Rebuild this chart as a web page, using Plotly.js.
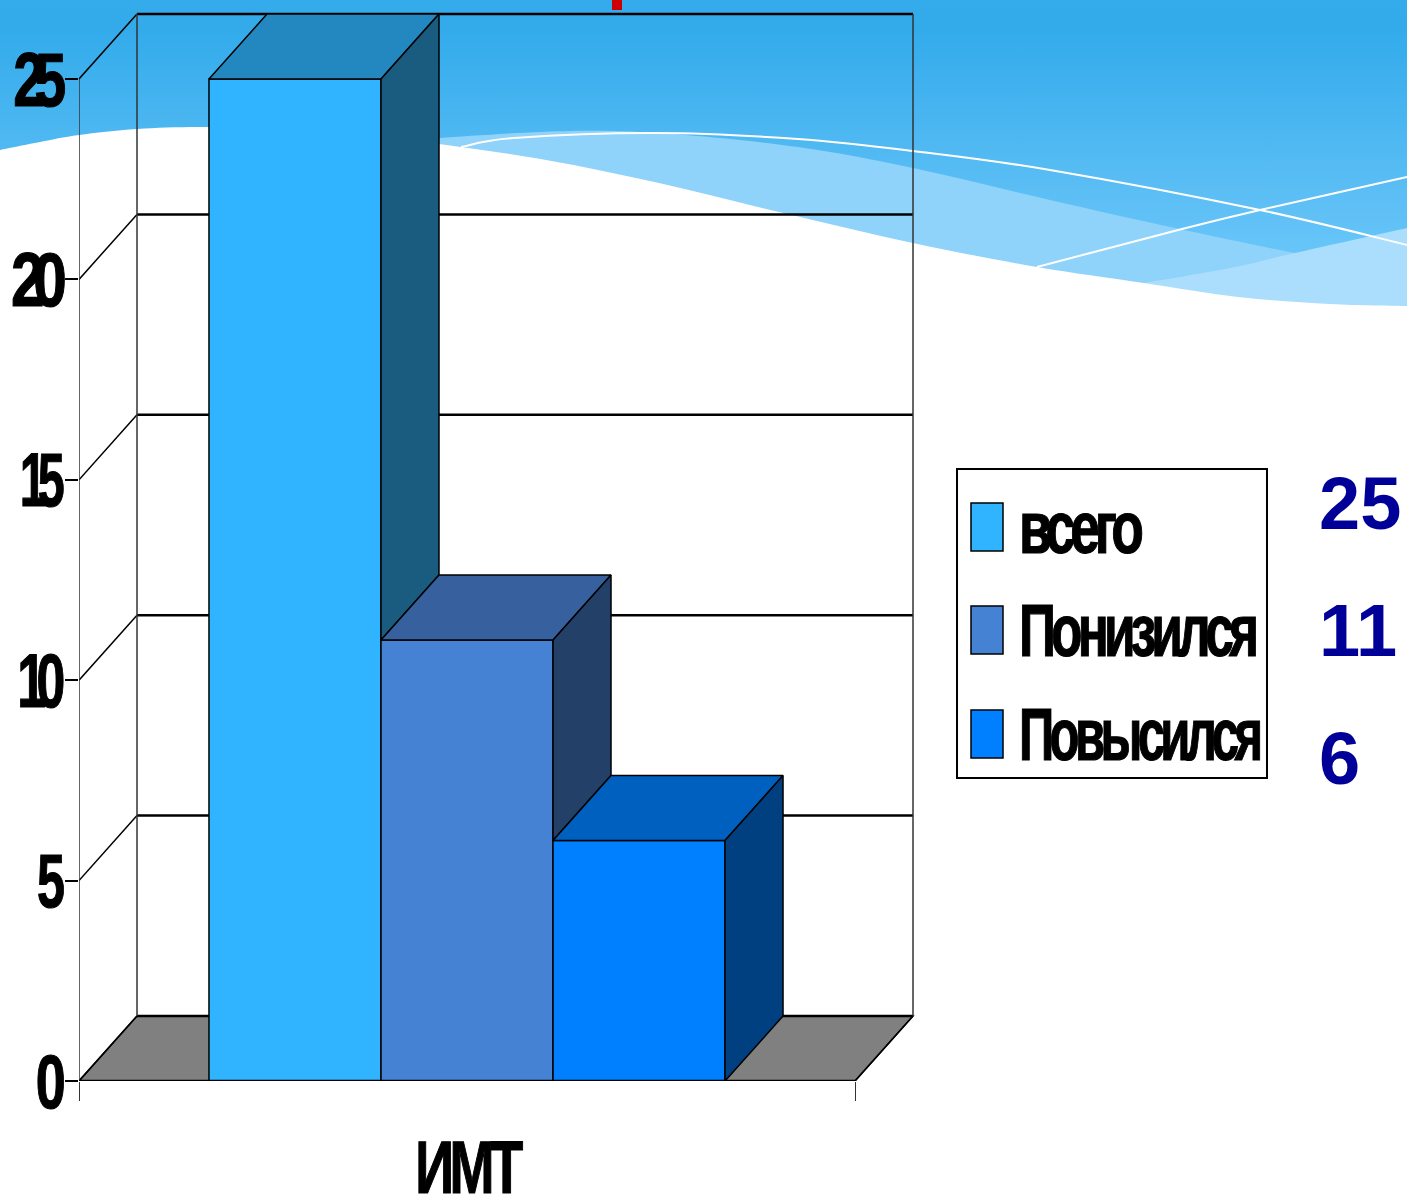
<!DOCTYPE html>
<html><head><meta charset="utf-8">
<script src="https://cdn.plot.ly/plotly-3.0.1.min.js"></script>
<style>
html,body{margin:0;padding:0;width:1407px;height:1196px;overflow:hidden;background:#fff}
#chart{width:1407px;height:1196px;background:linear-gradient(#34ACEC 0,#33ABEB 30px,#5DBFF5 200px,#72CBFC 310px,#fff 310px)}
</style></head><body><div id="chart"></div>
<script>
// ---- data ----
const category = 'ИМТ';
const seriesNames = ['всего', 'Понизился', 'Повысился'];
const seriesValues = [25, 11, 6];
const valueLabels = ['25', '11', '6'];
const yTicks = [0, 5, 10, 15, 20, 25];
const frontColors = ['#30B4FF', '#4682D4', '#0080FF'];
const topColors = ['#2288BF', '#36619E', '#0060BF'];
const sideColors = ['#195C80', '#234069', '#003F80'];

// ---- page geometry ----
const W = 1407, H = 1196;
const px = x => x / W, py = y => 1 - y / H;
const depthX = 58 / 776, depthY = 65 / 40.08;
const barGap = 0.335;
const barW = (1 - barGap) / seriesValues.length;

function smooth(pts) {
  let d = 'M' + px(pts[0][0]) + ',' + py(pts[0][1]);
  for (let i = 0; i < pts.length - 1; i++) {
    const p0 = pts[Math.max(i - 1, 0)], p1 = pts[i], p2 = pts[i + 1], p3 = pts[Math.min(i + 2, pts.length - 1)];
    const c1 = [p1[0] + (p2[0] - p0[0]) / 6, p1[1] + (p2[1] - p0[1]) / 6];
    const c2 = [p2[0] - (p3[0] - p1[0]) / 6, p2[1] - (p3[1] - p1[1]) / 6];
    d += 'C' + px(c1[0]) + ',' + py(c1[1]) + ' ' + px(c2[0]) + ',' + py(c2[1]) + ' ' + px(p2[0]) + ',' + py(p2[1]);
  }
  return d;
}
const L = (a, b) => 'L' + px(a) + ',' + py(b);
const bgShape = (path, fill, line) => ({type: 'path', xref: 'paper', yref: 'paper', layer: 'below', path,
  fillcolor: fill || 'rgba(0,0,0,0)', line: line || {width: 0}});

const whiteEdge = [[0,150],[40,142],[79,135],[137,129],[208,127],[320,130],[439,144],[546,160],[659,183],[779,212],[913,243],[1037,267],[1144,283],[1238,297],[1330,304],[1407,306]];
const bandTop = [[380,146],[439,138],[571,131],[672,134],[798,147],[913,168],[1050,200],[1175,228],[1295,253],[1407,274]];
const bandTwo = [[1144,283],[1230,268],[1295,253],[1407,228]];
const line1 = [[461,147],[514,138],[656,133],[798,139],[913,151],[1050,170],[1260,210],[1407,245]];
const line2 = [[1037,267],[1182,229],[1260,210],[1407,177]];

const shapes = [
  bgShape(smooth(bandTop) + L(1407, 320) + L(380, 320) + 'Z', '#8FD2FA'),
  bgShape(smooth(bandTwo) + L(1407, 320) + L(1144, 320) + 'Z', '#ABDEFC'),
  bgShape(smooth(whiteEdge) + L(1407, 1196) + L(0, 1196) + 'Z', '#FFFFFF'),
  bgShape(smooth(line1), null, {color: '#fff', width: 2}),
  bgShape(smooth(line2), null, {color: '#fff', width: 2}),
  {type: 'rect', xref: 'paper', yref: 'paper', x0: px(612), x1: px(622), y0: py(10), y1: py(0), fillcolor: '#CC0000', line: {width: 0}, layer: 'below'}
];
const dataLine = (x0, y0, x1, y1, width, color) => ({type: 'line', xref: 'x', yref: 'y', layer: 'below',
  x0, y0, x1, y1, line: {color: color || '#000', width}});
// floor
shapes.push({type: 'path', xref: 'x', yref: 'y', layer: 'below',
  path: `M-0.5,0L${-0.5 + depthX},${depthY}L${0.5 + depthX},${depthY}L0.5,0Z`, fillcolor: '#808080', line: {color: '#000', width: 1.5}});
// walls and grid
yTicks.forEach(v => {
  shapes.push(dataLine(-0.5, v, -0.5 + depthX, v + depthY, 1.5));
  shapes.push(dataLine(-0.5 + depthX, v + depthY, 0.5 + depthX, v + depthY, 2.5));
});
const maxTick = yTicks[yTicks.length - 1];
shapes.push(dataLine(-0.5, 0, -0.5, maxTick, 1.5, '#333'));
shapes.push(dataLine(-0.5 + depthX, depthY, -0.5 + depthX, maxTick + depthY, 1.5, '#333'));
shapes.push(dataLine(0.5 + depthX, depthY, 0.5 + depthX, maxTick + depthY, 1.5, '#333'));
shapes.push(dataLine(0.5, 0, 0.5 + depthX, depthY, 1.5));

// ---- traces ----
const groupLeft = -(1 - barGap) / 2;
const traces = seriesValues.map((v, i) => ({
  type: 'bar', x: [0], y: [v], name: seriesNames[i], legendgroup: 'g' + i,
  marker: {color: frontColors[i], line: {color: '#000', width: 1.5}},
  hoverinfo: 'skip'
}));
seriesValues.forEach((v, i) => {
  const xl = groupLeft + i * barW, xr = xl + barW;
  const next = i + 1 < seriesValues.length ? seriesValues[i + 1] : 0;
  traces.push({type: 'scatter', mode: 'lines', showlegend: false, hoverinfo: 'skip', fill: 'toself', cliponaxis: false,
    x: [xl, xl + depthX, xr + depthX, xr, xl], y: [v, v + depthY, v + depthY, v, v],
    fillcolor: topColors[i], line: {color: '#000', width: 1.5}});
  traces.push({type: 'scatter', mode: 'lines', showlegend: false, hoverinfo: 'skip', fill: 'toself', cliponaxis: false,
    x: [xr, xr + depthX, xr + depthX, xr, xr], y: [v, v + depthY, next + depthY, next, v],
    fillcolor: sideColors[i], line: {color: '#000', width: 1.5}});
});
// front baseline drawn above the bars
traces.push({type: 'scatter', mode: 'lines', showlegend: false, hoverinfo: 'skip', cliponaxis: false,
  x: [-0.5, 0.5], y: [0, 0], line: {color: '#000', width: 2.5}});

const boldFont = {family: '"Liberation Sans", Arial, sans-serif', size: 76, color: '#000', weight: 700};
const layout = {
  width: W, height: H,
  margin: {l: 0, r: 0, t: 0, b: 0, pad: 0},
  paper_bgcolor: 'rgba(0,0,0,0)', plot_bgcolor: 'rgba(0,0,0,0)',
  barmode: 'group', bargap: barGap, bargroupgap: 0,
  xaxis: {domain: [px(79), px(917)], range: [-0.5, 0.5 + 62 / 776], type: 'linear', fixedrange: true,
    tickmode: 'array', tickvals: [0], ticktext: [category], ticks: '', showgrid: false, zeroline: false, showline: false,
    tickfont: {...boldFont, size: 74}, ticklabelstandoff: 37,
    minor: {tickmode: 'array', tickvals: [-0.5, 0.5], ticks: 'outside', ticklen: 19, tickwidth: 1, tickcolor: '#333', showgrid: false}},
  yaxis: {domain: [py(1081), py(10)], range: [0, (1081 - 10) / 40.08], fixedrange: true,
    tickmode: 'array', tickvals: yTicks, ticks: 'outside', ticklen: 13, tickwidth: 2, tickcolor: '#000',
    showgrid: false, zeroline: false, showline: false, tickfont: boldFont},
  legend: {x: px(956), y: py(468), xanchor: 'left', yanchor: 'top', bgcolor: '#fff', bordercolor: '#000', borderwidth: 2,
    font: {family: boldFont.family, size: 44, color: '#000', weight: 700},
    itemwidth: 40, tracegroupgap: 58, traceorder: 'grouped', itemclick: false, itemdoubleclick: false},
  showlegend: true,
  shapes,
  annotations: valueLabels.map((t, i) => ({
    xref: 'paper', yref: 'paper', x: px(1317), y: py([503, 630, 758][i]), xanchor: 'left', yanchor: 'middle',
    text: t, showarrow: false, font: {family: boldFont.family, size: 74, color: '#000099', weight: 700}}))
};

const tickWidths = {'25': 53, '20': 56, '15': 45, '10': 48, '5': 28, '0': 30};
const legendWidths = [125, 240, 244];
const legendCenters = [527, 630, 734];
function squeezeTo(el, target, ls, size) {
  if (size) el.style.fontSize = size + 'px';
  el.style.letterSpacing = ls + 'px';
  el.style.stroke = '#000';
  el.style.strokeWidth = '1.2px';
  const len = el.getComputedTextLength();
  const sx = target / (len - ls);
  el.setAttribute('textLength', len * sx);
  el.setAttribute('lengthAdjust', 'spacingAndGlyphs');
}
Plotly.newPlot('chart', traces, layout, {staticPlot: true, displayModeBar: false}).then(gd => {
  gd.querySelectorAll('.ytick text').forEach(t => {
    squeezeTo(t, tickWidths[t.textContent] || 40, -14);
    t.setAttribute('x', +t.getAttribute('x') + 6);
  });
  gd.querySelectorAll('.xtick text').forEach(t => squeezeTo(t, 108, -6));
  gd.querySelectorAll('.legend .traces').forEach((g, i) => {
    const m = g.getScreenCTM();
    const cur = /translate\(\s*([-\d.]+)[ ,]+([-\d.]+)/.exec(g.getAttribute('transform') || '') || [0, 0, 0];
    g.setAttribute('transform', `translate(${+cur[1]},${+cur[2] + legendCenters[i] - m.f})`);
    const t = g.querySelector('.legendtext');
    squeezeTo(t, legendWidths[i], -7, 74);
    t.setAttribute('x', +t.getAttribute('x') + 11);
    t.setAttribute('y', 26);
    g.querySelectorAll('.legendpoints path').forEach(p => {
      p.setAttribute('d', 'M20,24H-12V-24H20Z');
      p.style.strokeWidth = '1.5px';
    });
  });
});
</script></body></html>
